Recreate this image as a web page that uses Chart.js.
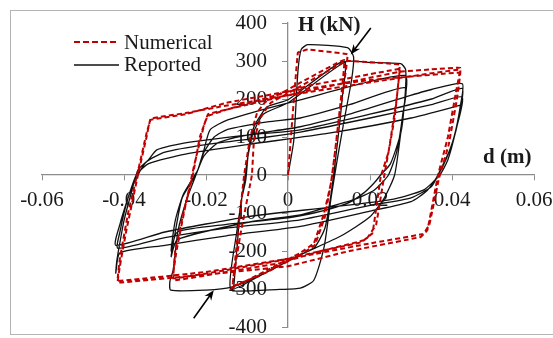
<!DOCTYPE html>
<html>
<head>
<meta charset="utf-8">
<script src="https://cdn.jsdelivr.net/npm/chart.js@4.4.1/dist/chart.umd.min.js"></script>
<style>
  body { margin: 0; background: #fff; }
  #wrap { position: relative; width: 553px; height: 338px; overflow: hidden; font-family: "Liberation Serif", "Times New Roman", serif; }
  #frame { position: absolute; left: 10px; top: 10px; width: 560px; height: 323px; border: 1px solid #b4b4b4; }
  canvas { position: absolute; left: 0; top: 0; }
  svg { position: absolute; left: 0; top: 0; }
  .lbl { position: absolute; font-size: 21px; line-height: 21px; color: #1a1a1a; white-space: nowrap; }
  .ttl { font-weight: bold; }
</style>
</head>
<body>
<div id="wrap">
  <div id="frame"></div>
  <canvas id="hysChart" width="553" height="338"></canvas>
  <svg width="553" height="338">
    <line x1="74" y1="42" x2="119" y2="42" stroke="#C00000" stroke-width="2" stroke-dasharray="6 3"/>
    <line x1="74" y1="65" x2="119" y2="65" stroke="#111" stroke-width="1.5"/>
  </svg>
  <div class="lbl" style="left:124px;top:32px">Numerical</div>
  <div class="lbl" style="left:124px;top:54px">Reported</div>
  <div class="lbl ttl" style="left:298px;top:14px">H (kN)</div>
  <div class="lbl ttl" style="left:483px;top:146px">d (m)</div>
</div>
<script>
// tick values / labels
const xTickValues = [-0.06, -0.04, -0.02, 0, 0.02, 0.04, 0.06];
const xTickLabels = ['-0.06', '-0.04', '-0.02', '0', '0.02', '0.04', '0.06'];
const yTickValues = [-400, -300, -200, -100, 0, 100, 200, 300, 400];
const yTickLabels = ['-400', '-300', '-200', '-100', '0', '100', '200', '300', '400'];

// Numerical (red dashed) - [d (m), H (kN)], one array per amplitude
const numCycle1 = [
  [0, 0], [0.0024, 322], [0.0048, 330], [0.0145, 318],
  [0.0143, 290], [0.0125, 150], [0.0105, -20], [0.0088, -100], [0.0063, -180], [0.003, -205], [-0.005, -250], [-0.0138, -298],
  [-0.0135, -290], [-0.0122, -150], [-0.0107, 0], [-0.0092, 100], [-0.0075, 165], [-0.0055, 192], [0, 225], [0.0137, 303],
  [0.0125, 160], [0.0108, 0], [0.009, -110], [0.0065, -185], [0.003, -210], [-0.005, -255], [-0.0135, -292],
  [-0.0115, -150], [-0.0088, 0], [-0.0083, 92], [-0.0066, 153], [-0.0042, 190], [0, 215], [0.0142, 300]
];
const numCycle2 = [
  [0.02, 297], [0.0272, 290],
  [0.0265, 200], [0.0245, 60], [0.0226, -5], [0.0206, -153], [0.0178, -177], [0.008, -200], [-0.002, -232], [-0.015, -255], [-0.0279, -277],
  [-0.0275, -200], [-0.0255, -100], [-0.0232, 0], [-0.0215, 100], [-0.0196, 155], [-0.015, 172], [-0.006, 200], [0.005, 235], [0.0275, 280],
  [0.0272, 270], [0.026, 150], [0.0235, 0], [0.0215, -130], [0.019, -170], [0.01, -195], [-0.002, -225], [-0.015, -250], [-0.028, -272],
  [-0.0272, -200], [-0.025, -80], [-0.0228, 30], [-0.0205, 130], [-0.0195, 160], [-0.01, 185], [0, 210], [0.015, 245], [0.0275, 272]
];
const numCycle3 = [
  [0.035, 278], [0.042, 282],
  [0.041, 220], [0.039, 100], [0.0366, 0], [0.034, -145], [0.0324, -163], [0.015, -200], [0, -240], [-0.02, -262], [-0.0415, -283],
  [-0.041, -240], [-0.0395, -150], [-0.0366, 0], [-0.0345, 100], [-0.0335, 148], [-0.025, 163], [-0.0164, 180], [-0.002, 206], [0.0177, 240], [0.042, 277],
  [0.0412, 200], [0.0392, 80], [0.0368, -10], [0.0345, -130], [0.033, -155], [0.02, -180], [0.003, -215], [-0.02, -255], [-0.0415, -278],
  [-0.041, -220], [-0.039, -100], [-0.0368, 0], [-0.0345, 110], [-0.0335, 145], [-0.025, 160], [-0.015, 190], [0, 220], [0.02, 250], [0.042, 270]
];

// Reported (black)
const repCycle1 = [
  [0, 0], [0.0014, 90], [0.0024, 270], [0.0032, 330], [0.0048, 343], [0.0145, 335], [0.016, 311],
  [0.0155, 250], [0.0138, 150], [0.012, 40], [0.0105, -60], [0.0088, -190], [0.0063, -277], [0.003, -298], [-0.002, -301], [-0.0135, -305],
  [-0.0132, -290], [-0.0125, -200], [-0.0115, -74], [-0.0103, -13], [-0.0096, 66], [-0.0083, 127], [-0.005, 180], [0, 198], [0.0137, 300],
  [0.0132, 200], [0.0118, 60], [0.0105, -50], [0.009, -140], [0.0065, -190], [0.003, -210], [-0.006, -260], [-0.014, -300],
  [-0.0125, -150], [-0.0107, -20], [-0.0098, 48], [-0.0085, 110], [-0.006, 160], [0, 190], [0.014, 298]
];
const repCycle2 = [
  [0.02, 296], [0.0275, 293], [0.0287, 277],
  [0.0285, 200], [0.0275, 110], [0.026, 0], [0.0235, -60], [0.02, -110], [0.013, -160], [0.003, -210], [-0.006, -260], [-0.014, -296], [-0.02, -303], [-0.0286, -303],
  [-0.0288, -280], [-0.028, -250], [-0.0268, -145], [-0.0245, -58], [-0.022, 13], [-0.0205, 66], [-0.019, 119], [-0.0147, 145], [0.003, 198], [0.0285, 262],
  [0.0283, 180], [0.0275, 110], [0.025, 30], [0.0226, 0], [0.021, -21], [0.0185, -47], [0.0146, -74], [0.0063, -100], [-0.0018, -115], [-0.015, -130], [-0.027, -150], [-0.0285, -200],
  [-0.0275, -120], [-0.0255, -50], [-0.022, 13], [-0.0205, 60], [-0.018, 100], [-0.0147, 120], [-0.005, 140], [0.003, 150], [0.015, 185], [0.0285, 230],
  [0.028, 160], [0.0265, 60], [0.0245, 0], [0.021, -40], [0.016, -65], [0.008, -90], [0.003, -105], [-0.01, -125], [-0.027, -170], [-0.0285, -215],
  [-0.0275, -150], [-0.0258, -60], [-0.0225, 0], [-0.0205, 50], [-0.017, 85], [-0.01, 105], [0.003, 127], [0.015, 160], [0.0285, 205]
];
const repCycle3 = [
  [0.035, 225], [0.0425, 240],
  [0.042, 180], [0.0405, 100], [0.0385, 40], [0.0366, 0], [0.034, -40], [0.03, -70], [0.02, -95], [0.003, -135], [-0.015, -160], [-0.03, -185], [-0.041, -205], [-0.042, -258],
  [-0.0418, -230], [-0.0412, -190], [-0.04, -120], [-0.0383, -50], [-0.0366, 13], [-0.034, 40], [-0.032, 66], [-0.0254, 84], [-0.01, 105], [0.003, 119], [0.02, 160], [0.035, 200], [0.0425, 228],
  [0.042, 170], [0.04, 80], [0.037, 10], [0.035, -30], [0.03, -60], [0.02, -80], [0.003, -118], [-0.015, -140], [-0.03, -165], [-0.0415, -193],
  [-0.041, -150], [-0.039, -60], [-0.0366, 0], [-0.0345, 35], [-0.03, 60], [-0.02, 80], [-0.005, 100], [0.003, 113], [0.02, 150], [0.035, 185], [0.0425, 205],
  [0.041, 120], [0.039, 40], [0.037, 0], [0.033, -40], [0.025, -65], [0.01, -85], [-0.01, -110], [-0.03, -150], [-0.042, -185],
  [-0.041, -130], [-0.039, -60], [-0.037, 0], [-0.034, 30], [-0.025, 55], [-0.01, 80], [0.01, 110], [0.03, 150], [0.0425, 185]
];

// arrows: tail -> tip, in data units
const arrowTails = [[0.0202, 387], [-0.023, -377]];
const arrowTips = [[0.0153, 317], [-0.0181, -303]];

const toPts = (...cycles) => cycles.flat().map(p => ({ x: p[0], y: p[1] }));
const serif = '"Liberation Serif", "Times New Roman", serif';

// axes sit inside the plot, so they should not push the chart area around
const noPad = s => { s.paddingLeft = 0; s.paddingRight = 0; s.paddingTop = 0; s.paddingBottom = 0; };

const arrowPlugin = {
  id: 'arrows',
  afterDatasetsDraw(chart) {
    const { ctx, scales: { x, y } } = chart;
    ctx.save();
    ctx.strokeStyle = '#000';
    ctx.fillStyle = '#000';
    ctx.lineWidth = 1.6;
    arrowTails.forEach((t, i) => {
      const x0 = x.getPixelForValue(t[0]), y0 = y.getPixelForValue(t[1]);
      const x1 = x.getPixelForValue(arrowTips[i][0]), y1 = y.getPixelForValue(arrowTips[i][1]);
      const a = Math.atan2(y1 - y0, x1 - x0);
      ctx.beginPath();
      ctx.moveTo(x0, y0);
      ctx.lineTo(x1 - 6 * Math.cos(a), y1 - 6 * Math.sin(a));
      ctx.stroke();
      ctx.beginPath();
      ctx.moveTo(x1, y1);
      ctx.lineTo(x1 - 11 * Math.cos(a - 0.38), y1 - 11 * Math.sin(a - 0.38));
      ctx.lineTo(x1 - 7 * Math.cos(a), y1 - 7 * Math.sin(a));
      ctx.lineTo(x1 - 11 * Math.cos(a + 0.38), y1 - 11 * Math.sin(a + 0.38));
      ctx.closePath();
      ctx.fill();
    });
    ctx.restore();
  }
};

const ctx = document.getElementById('hysChart').getContext('2d');

new Chart(ctx, {
  type: 'scatter',
  data: {
    datasets: [
      {
        label: 'Numerical',
        data: toPts(numCycle1, numCycle2, numCycle3),
        showLine: true,
        borderColor: '#C00000',
        borderWidth: 2,
        borderDash: [5, 3],
        pointRadius: 0,
        tension: 0.05,
        order: 0
      },
      {
        label: 'Reported',
        data: toPts(repCycle1, repCycle2, repCycle3),
        showLine: true,
        borderColor: '#111',
        borderWidth: 1.3,
        pointRadius: 0,
        tension: 0.2,
        order: 1
      }
    ]
  },
  options: {
    responsive: false,
    animation: false,
    layout: { padding: { left: 42, right: 19, top: 23, bottom: 11 } },
    plugins: {
      legend: { display: false },
      tooltip: { enabled: false }
    },
    scales: {
      x: {
        type: 'linear',
        min: -0.06,
        max: 0.06,
        position: { y: 0 },
        afterBuildTicks: s => { s.ticks = xTickValues.map(v => ({ value: v })); },
        afterFit: noPad,
        ticks: {
          autoSkip: false,
          maxRotation: 0,
          padding: 8,
          color: '#1a1a1a',
          font: { family: serif, size: 21 },
          callback: (v, i) => xTickLabels[i]
        },
        grid: { drawOnChartArea: false, drawTicks: true, tickLength: 5, color: '#8c8c8c' },
        border: { color: '#8c8c8c', width: 1.3 }
      },
      y: {
        type: 'linear',
        min: -400,
        max: 400,
        position: { x: 0 },
        afterBuildTicks: s => { s.ticks = yTickValues.map(v => ({ value: v })); },
        afterFit: noPad,
        ticks: {
          autoSkip: false,
          color: '#1a1a1a',
          font: { family: serif, size: 21 },
          // labels of an axis placed at x=0 are drawn flush with the line; trailing spaces push them left
          callback: (v, i) => yTickLabels[i] + '    '
        },
        grid: { drawOnChartArea: false, drawTicks: true, tickLength: 5, color: '#8c8c8c' },
        border: { color: '#8c8c8c', width: 1.3 }
      }
    }
  },
  plugins: [arrowPlugin]
});
</script>
</body>
</html>
